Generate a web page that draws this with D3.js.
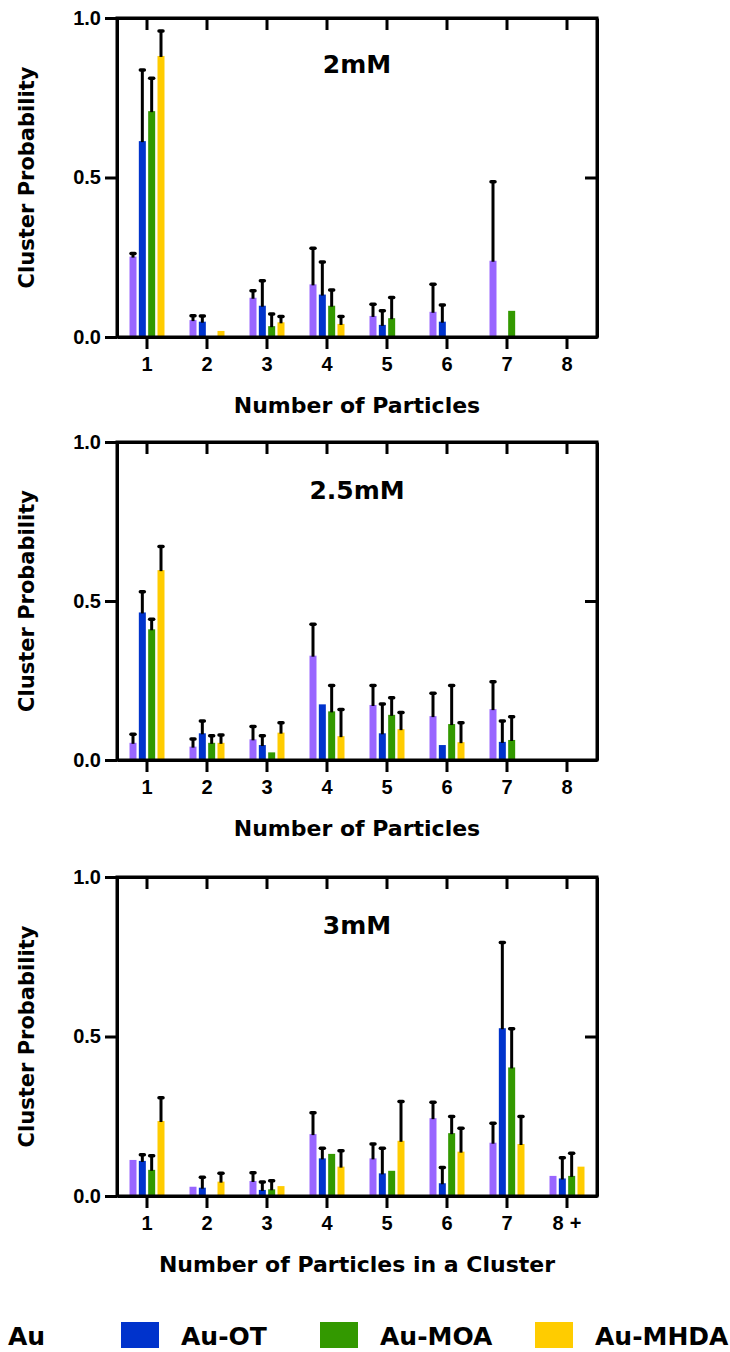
<!DOCTYPE html>
<html>
<head>
<meta charset="utf-8">
<script src="https://cdn.jsdelivr.net/npm/d3@7"></script>
<style>
  body { margin: 0; background: #fff; }
  svg { display: block; }
  .tick text { font-family: "Liberation Sans", Arial, sans-serif; font-weight: bold; font-size: 20px; fill: #000; }
  .title { font-family: "DejaVu Sans", sans-serif; font-weight: bold; fill: #000; }
</style>
</head>
<body>
<svg id="chart" width="730" height="1352"></svg>
<script>
const categories = [1, 2, 3, 4, 5, 6, 7, 8];
const series = ['Au', 'Au-OT', 'Au-MOA', 'Au-MHDA'];
const colors = ['#9966ff', '#0033cc', '#339900', '#ffcc00'];
const yTicks = [0, 0.5, 1.0];
const panelTitles = ['2mM', '2.5mM', '3mM'];
const xTitles = ['Number of Particles', 'Number of Particles', 'Number of Particles in a Cluster'];
const tickLabels = ['1', '2', '3', '4', '5', '6', '7', '8'];
const tickLabels3 = ['1', '2', '3', '4', '5', '6', '7', '8+'];

// 2mM : means and upper error (SD) per series
const au_2 = [0.252, 0.053, 0.123, 0.165, 0.066, 0.079, 0.239, 0];
const auOT_2 = [0.614, 0.048, 0.098, 0.133, 0.038, 0.048, 0, 0];
const auMOA_2 = [0.708, 0, 0.034, 0.098, 0.059, 0, 0.082, 0];
const auMHDA_2 = [0.881, 0.019, 0.046, 0.041, 0, 0, 0, 0];
const auErr_2 = [0.010, 0.014, 0.022, 0.113, 0.037, 0.086, 0.248, 0];
const auOTErr_2 = [0.223, 0.018, 0.078, 0.102, 0.044, 0.052, 0, 0];
const auMOAErr_2 = [0.103, 0, 0.038, 0.049, 0.065, 0, 0, 0];
const auMHDAErr_2 = [0.078, 0, 0.018, 0.023, 0, 0, 0, 0];

// 2.5mM
const au_25 = [0.054, 0.042, 0.065, 0.328, 0.173, 0.138, 0.160, 0];
const auOT_25 = [0.464, 0.084, 0.047, 0.175, 0.084, 0.047, 0.057, 0];
const auMOA_25 = [0.411, 0.054, 0.024, 0.153, 0.142, 0.113, 0.063, 0];
const auMHDA_25 = [0.597, 0.054, 0.086, 0.075, 0.097, 0.056, 0, 0];
const auErr_25 = [0.027, 0.024, 0.040, 0.099, 0.061, 0.072, 0.086, 0];
const auOTErr_25 = [0.065, 0.039, 0.029, 0, 0.092, 0, 0.066, 0];
const auMOAErr_25 = [0.032, 0.022, 0, 0.081, 0.054, 0.121, 0.073, 0];
const auMHDAErr_25 = [0.074, 0.025, 0.031, 0.084, 0.052, 0.061, 0, 0];

// 3mM
const au_3 = [0.113, 0.029, 0.047, 0.194, 0.118, 0.244, 0.167, 0.063];
const auOT_3 = [0.110, 0.026, 0.019, 0.118, 0.071, 0.040, 0.526, 0.055];
const auMOA_3 = [0.082, 0, 0.021, 0.132, 0.079, 0.197, 0.403, 0.063];
const auMHDA_3 = [0.235, 0.045, 0.031, 0.092, 0.173, 0.139, 0.163, 0.092];
const auErr_3 = [0, 0, 0.026, 0.067, 0.045, 0.050, 0.061, 0];
const auOTErr_3 = [0.019, 0.033, 0.025, 0.032, 0.079, 0.049, 0.269, 0.065];
const auMOAErr_3 = [0.044, 0, 0.027, 0, 0, 0.052, 0.121, 0.071];
const auMHDAErr_3 = [0.073, 0.026, 0, 0.050, 0.123, 0.073, 0.086, 0];

const panels = [
  {title: panelTitles[0], xTitle: xTitles[0], labels: tickLabels, top: 18, bottom: 337, titleY: 73,
   means: [au_2, auOT_2, auMOA_2, auMHDA_2], errs: [auErr_2, auOTErr_2, auMOAErr_2, auMHDAErr_2]},
  {title: panelTitles[1], xTitle: xTitles[1], labels: tickLabels, top: 442, bottom: 760, titleY: 499,
   means: [au_25, auOT_25, auMOA_25, auMHDA_25], errs: [auErr_25, auOTErr_25, auMOAErr_25, auMHDAErr_25]},
  {title: panelTitles[2], xTitle: xTitles[2], labels: tickLabels3, top: 877, bottom: 1196, titleY: 934,
   means: [au_3, auOT_3, auMOA_3, auMHDA_3], errs: [auErr_3, auOTErr_3, auMOAErr_3, auMHDAErr_3]},
];

const svg = d3.select('#chart');
const [left, right] = [117, 597];

const x = d3.scaleBand().domain(categories).range([left, right]);
const inner = d3.scaleBand().domain(series).range([-17.5, 17.5]).paddingInner(0.25);

function styleAxis(g) {
  g.select('.domain').attr('stroke', '#000').attr('stroke-width', 3);
  g.selectAll('.tick line').attr('stroke', '#000').attr('stroke-width', 3);
}

panels.forEach((p) => {
  const y = d3.scaleLinear().domain([0, 1]).range([p.bottom, p.top]);
  const g = svg.append('g');

  // bars + error bars (upper only)
  series.forEach((s, si) => {
    const rows = categories.map((c, ci) => ({c: c, v: p.means[si][ci], e: p.errs[si][ci]}));
    const sg = g.append('g');
    sg.selectAll('rect')
      .data(rows.filter(d => d.v > 0))
      .enter().append('rect')
      .attr('x', d => x(d.c) + x.bandwidth() / 2 + inner(s))
      .attr('y', d => y(d.v))
      .attr('width', inner.bandwidth())
      .attr('height', d => y(0) - y(d.v))
      .attr('fill', colors[si]);

    const eb = sg.selectAll('g.err')
      .data(rows.filter(d => d.e > 0))
      .enter().append('g').attr('class', 'err');
    const cx = d => x(d.c) + x.bandwidth() / 2 + inner(s) + inner.bandwidth() / 2;
    eb.append('line')
      .attr('x1', cx).attr('x2', cx)
      .attr('y1', d => y(d.v) + 1).attr('y2', d => y(d.v + d.e))
      .attr('stroke', '#000').attr('stroke-width', 3);
    eb.append('line')
      .attr('x1', d => cx(d) - 2).attr('x2', d => cx(d) + 2)
      .attr('y1', d => y(d.v + d.e)).attr('y2', d => y(d.v + d.e))
      .attr('stroke', '#000').attr('stroke-width', 3.5).attr('stroke-linecap', 'round');
  });

  // axes
  const labelOf = d3.scaleOrdinal().domain(categories).range(p.labels);
  const bottomAxis = g.append('g')
    .attr('transform', `translate(0,${p.bottom})`)
    .call(d3.axisBottom(x).tickSize(12).tickSizeOuter(0).tickPadding(8)
      .tickFormat(c => labelOf(c).replace('+', '')))
    .call(styleAxis);
  bottomAxis.selectAll('.tick text')
    .filter(c => labelOf(c).endsWith('+'))
    .append('tspan').attr('dx', 6).text('+');

  g.append('g')
    .attr('transform', `translate(0,${p.top})`)
    .call(d3.axisBottom(x).tickSize(12).tickSizeOuter(0).tickFormat(''))
    .call(styleAxis);

  g.append('g')
    .attr('transform', `translate(${left},0)`)
    .call(d3.axisLeft(y).tickValues(yTicks).tickSize(12).tickSizeOuter(0).tickPadding(4)
      .tickFormat(d3.format('.1f')))
    .call(styleAxis);

  g.append('g')
    .attr('transform', `translate(${right},0)`)
    .call(d3.axisLeft(y).tickValues(yTicks).tickSize(12).tickSizeOuter(0).tickFormat(''))
    .call(styleAxis);

  // square the frame corners
  g.append('rect')
    .attr('x', left).attr('y', p.top)
    .attr('width', right - left).attr('height', p.bottom - p.top)
    .attr('fill', 'none').attr('stroke', '#000').attr('stroke-width', 3);

  // titles
  g.append('text').attr('class', 'title')
    .attr('x', (left + right) / 2).attr('y', p.titleY)
    .attr('text-anchor', 'middle').style('font-size', '25px')
    .text(p.title);

  g.append('text').attr('class', 'title')
    .attr('x', (left + right) / 2).attr('y', p.bottom + 76)
    .attr('text-anchor', 'middle').style('font-size', '22px')
    .text(p.xTitle);

  g.append('text').attr('class', 'title')
    .attr('transform', `translate(34,${(p.top + p.bottom) / 2}) rotate(-90)`)
    .attr('text-anchor', 'middle').style('font-size', '21px')
    .text('Cluster Probability');
});

// legend (first swatch falls outside the page, as in the source figure)
const swatchX = [-52, 121, 320, 535];
const lg = svg.append('g').attr('transform', 'translate(0,1336)');
series.forEach((s, i) => {
  lg.append('rect').attr('x', swatchX[i]).attr('y', -14).attr('width', 38).attr('height', 26).attr('fill', colors[i]);
  lg.append('text').attr('class', 'title')
    .attr('x', swatchX[i] + 60).attr('y', 9)
    .style('font-size', '25px')
    .text(s);
});
</script>
</body>
</html>
